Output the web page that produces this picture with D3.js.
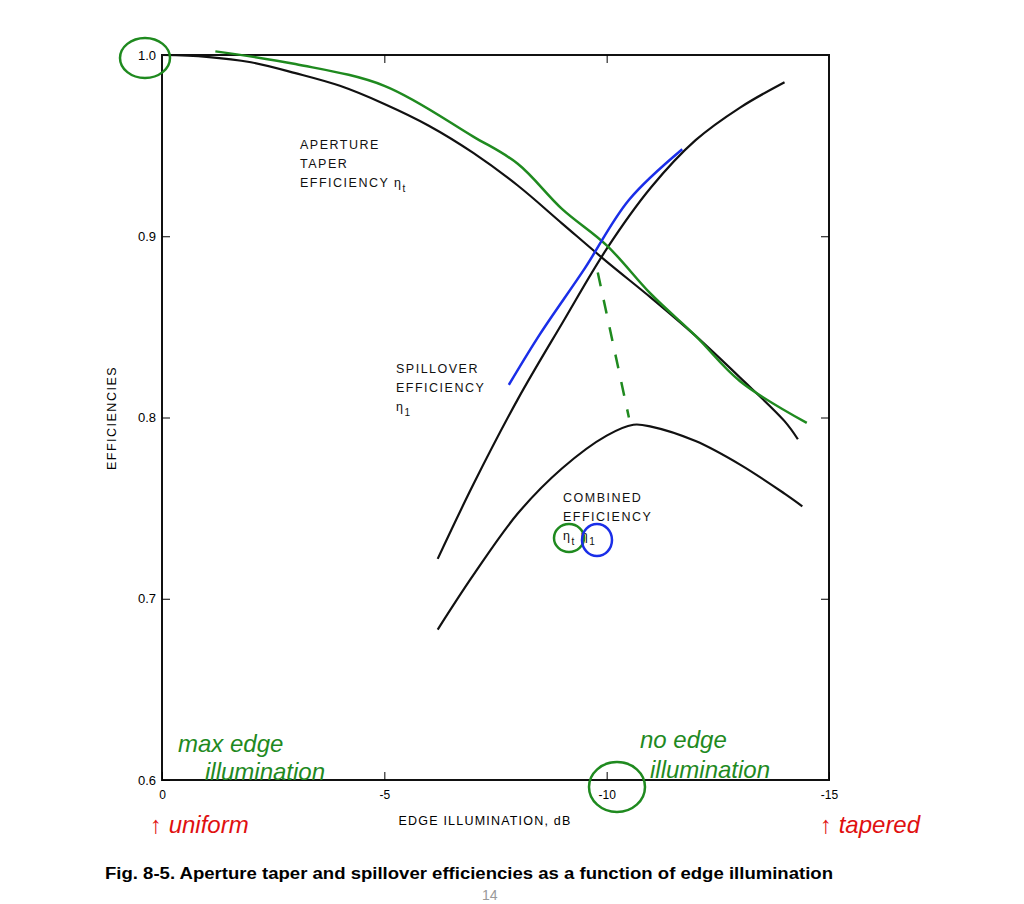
<!DOCTYPE html>
<html>
<head>
<style>
  body { margin: 0; background: #fff; }
  text { font-family: "Liberation Sans", Arial, sans-serif; }
</style>
</head>
<body>
<svg id="svg" width="1024" height="904"></svg>
<script src="https://d3js.org/d3.v7.min.js"></script>
<script>
const xTicks = [0, -5, -10, -15]
const yTicks = [0.6, 0.7, 0.8, 0.9, 1.0]

const taperX = [0, -1, -2, -3, -4, -5, -6, -7, -8, -9, -10, -11, -12, -13, -14, -14.3]
const taperY = [1.0, 0.999, 0.996, 0.99, 0.983, 0.973, 0.961, 0.946, 0.928, 0.907, 0.886, 0.866, 0.845, 0.822, 0.798, 0.788]

const spillX = [-6.2, -7, -8, -9, -10, -11, -12, -13, -14]
const spillY = [0.722, 0.763, 0.81, 0.852, 0.893, 0.927, 0.953, 0.971, 0.985]

const combX = [-6.2, -7, -8, -9, -10, -10.6, -11, -12, -13, -14, -14.4]
const combY = [0.683, 0.713, 0.747, 0.772, 0.790, 0.796, 0.795, 0.787, 0.774, 0.758, 0.751]

// hand-drawn overlay: blue stroke along the spillover curve, green along the taper curve
const blueX = [-7.8, -8.5, -9.5, -10.5, -11.7]
const blueY = [0.818, 0.846, 0.882, 0.92, 0.948]
const greenX = [-1.2, -3, -5, -7, -8, -9, -10, -11, -12, -13, -14.5]
const greenY = [1.002, 0.995, 0.983, 0.955, 0.94, 0.915, 0.895, 0.868, 0.845, 0.82, 0.797]

const margin = { left: 162, right: 829, top: 55, bottom: 780 }
const x = d3.scaleLinear().domain([0, -15]).range([margin.left, margin.right])
const y = d3.scaleLinear().domain([0.6, 1.0]).range([margin.bottom, margin.top])

const svg = d3.select('#svg')

svg.append('rect')
  .attr('x', margin.left).attr('y', margin.top)
  .attr('width', margin.right - margin.left).attr('height', margin.bottom - margin.top)
  .attr('fill', 'none').attr('stroke', '#111').attr('stroke-width', 2)

svg.append('g')
  .attr('transform', `translate(0, ${margin.bottom})`)
  .call(d3.axisBottom(x).tickValues(xTicks).tickSize(-8).tickPadding(10).tickFormat(d => d))
  .call(g => g.select('.domain').remove())
  .selectAll('text').attr('font-size', 12)
svg.append('g')
  .attr('transform', `translate(0, ${margin.top})`)
  .call(d3.axisTop(x).tickValues([-5, -10]).tickSize(-8).tickFormat(''))
  .call(g => g.select('.domain').remove())

svg.append('g')
  .attr('transform', `translate(${margin.left}, 0)`)
  .call(d3.axisLeft(y).tickValues(yTicks).tickSize(-8).tickPadding(6).tickFormat(d3.format('.1f')))
  .call(g => g.select('.domain').remove())
  .selectAll('text').attr('font-size', 13)
svg.append('g')
  .attr('transform', `translate(${margin.right}, 0)`)
  .call(d3.axisRight(y).tickValues([0.7, 0.8, 0.9]).tickSize(-8).tickFormat(''))
  .call(g => g.select('.domain').remove())

const line = d3.line().x(d => x(d[0])).y(d => y(d[1])).curve(d3.curveCatmullRom)
const draw = (xs, ys, color, w) => svg.append('path')
  .datum(xs.map((v, i) => [v, ys[i]]))
  .attr('d', line).attr('fill', 'none').attr('stroke', color).attr('stroke-width', w)

draw(taperX, taperY, '#111', 2.2)
draw(spillX, spillY, '#111', 2.2)
draw(combX, combY, '#111', 2.2)
draw(greenX, greenY, '#1f8a1f', 2.5)
draw(blueX, blueY, '#1a2ee8', 2.5)

// label lines: plain text, or [symbol, subscript] pairs
const label = (lines, px, py) => lines.forEach((t, i) => {
  const el = svg.append('text').attr('x', px).attr('y', py + i * 19).attr('font-size', 12.5)
    .attr('letter-spacing', 1.5).attr('fill', '#111')
  t.forEach(part => {
    if (Array.isArray(part)) {
      el.append('tspan').text(part[0])
      el.append('tspan').attr('dy', 5).attr('font-size', 10).text(part[1])
      el.append('tspan').attr('dy', -5).text(' ')
    } else el.append('tspan').text(part)
  })
})
label([['APERTURE'], ['TAPER'], ['EFFICIENCY ', ['η', 't']]], 300, 149)
label([['SPILLOVER'], ['EFFICIENCY'], [['η', '1']]], 396, 373)
label([['COMBINED'], ['EFFICIENCY'], [['η', 't'], ['η', '1']]], 563, 502)

svg.append('text').attr('x', 485).attr('y', 825).attr('text-anchor', 'middle')
  .attr('font-size', 12.5).attr('letter-spacing', 1.2).text('EDGE ILLUMINATION, dB')
svg.append('text').attr('transform', 'translate(116, 418) rotate(-90)')
  .attr('text-anchor', 'middle').attr('font-size', 12.5).attr('letter-spacing', 1.5).text('EFFICIENCIES')

svg.append('text').attr('x', 105).attr('y', 879).attr('font-size', 16).attr('font-weight', 'bold')
  .attr('textLength', 728).attr('lengthAdjust', 'spacingAndGlyphs')
  .text('Fig. 8-5.  Aperture taper and spillover efficiencies as a function of edge illumination')
svg.append('text').attr('x', 482).attr('y', 900).attr('font-size', 14).attr('fill', '#999').text('14')

// handwritten notes
const hand = (t, px, py, color, size) => svg.append('text').attr('x', px).attr('y', py)
  .attr('font-size', size).attr('font-style', 'italic').attr('fill', color)
  .attr('font-family', 'DejaVu Serif').text(t)
hand('max edge', 178, 752, '#1f8a1f', 24)
hand('illumination', 205, 780, '#1f8a1f', 24)
hand('no edge', 640, 748, '#1f8a1f', 24)
hand('illumination', 650, 778, '#1f8a1f', 24)
hand('↑ uniform', 150, 833, '#e01010', 24)
hand('↑ tapered', 820, 833, '#e01010', 24)

svg.append('ellipse').attr('cx', 145).attr('cy', 58).attr('rx', 25).attr('ry', 20)
  .attr('fill', 'none').attr('stroke', '#1f8a1f').attr('stroke-width', 2.5)
svg.append('ellipse').attr('cx', 617).attr('cy', 787).attr('rx', 28).attr('ry', 25)
  .attr('fill', 'none').attr('stroke', '#1f8a1f').attr('stroke-width', 2.5)
svg.append('ellipse').attr('cx', 569).attr('cy', 538).attr('rx', 15).attr('ry', 14)
  .attr('fill', 'none').attr('stroke', '#1f8a1f').attr('stroke-width', 2.5)
svg.append('ellipse').attr('cx', 597).attr('cy', 540).attr('rx', 15).attr('ry', 16)
  .attr('fill', 'none').attr('stroke', '#1a2ee8').attr('stroke-width', 2.5)
svg.append('path').attr('d', `M${x(-9.8)},${y(0.88)} L${x(-10.5)},${y(0.8)}`)
  .attr('stroke', '#1f8a1f').attr('stroke-width', 2.5).attr('stroke-dasharray', '14,14').attr('fill', 'none')
</script>
</body>
</html>
